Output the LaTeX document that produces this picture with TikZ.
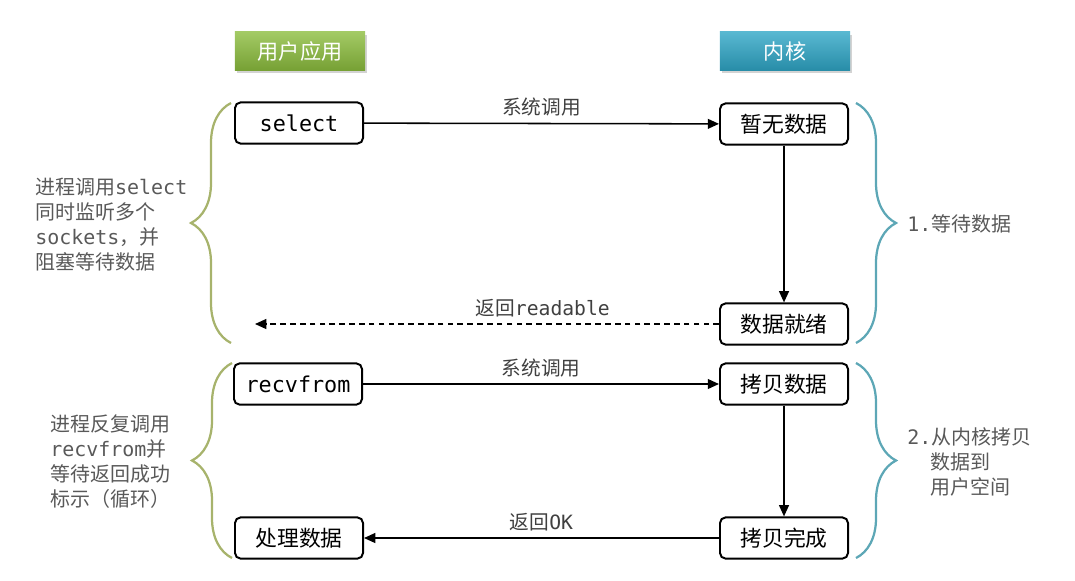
\documentclass[tikz,border=0pt]{standalone}
\usepackage{fontspec}
\setmainfont{Noto Sans CJK SC}
\setmonofont{DejaVu Sans Mono}
\usetikzlibrary{arrows.meta,shadows,decorations.pathreplacing}
\definecolor{usergreen}{HTML}{8CBD3E}
\definecolor{kernblue}{HTML}{2FA6C6}
\definecolor{leftbrace}{HTML}{A7B36C}
\definecolor{rightbrace}{HTML}{5DA7B6}
\definecolor{sidetext}{HTML}{595959}
\begin{document}
\begin{tikzpicture}[x=0.025cm,y=-0.025cm,
    >={Triangle[length=8pt,width=7pt]},
    box/.style={draw,line width=1.4pt,rounded corners=4pt,minimum width=3.2cm,
      minimum height=1.03cm,inner sep=0pt,font=\fontsize{15.5}{18}\selectfont},
    head/.style={minimum width=3.25cm,minimum height=0.95cm,inner sep=0pt,
      text=white,font=\fontsize{15}{18}\selectfont,
      drop shadow={shadow xshift=1.5pt,shadow yshift=-2pt,opacity=0.35}},
    lbl/.style={text=black!75,font=\fontsize{14}{17}\selectfont},
    side/.style={text=sidetext,align=left,inner sep=0pt,anchor=west,
      font=\fontsize{14.2}{17.8}\selectfont},
    brc/.style={decorate,line width=1.6pt,decoration={brace,amplitude=1cm}}]
    \useasboundingbox (0,0) rectangle (1075,580);
    % headers
    \path (300,51) node (user) [head,top color=usergreen!80!white,bottom color=usergreen!85!black] {用户应用}
    (785,51) node (kernel) [head,top color=kernblue!80!white,bottom color=kernblue!85!black] {内核};
    % boxes
    \path (299,123) node (sel) [box] {\texttt{select}}
    (784,124) node (wait) [box] {暂无数据}
    (784,324) node (ready) [box] {数据就绪}
    (298,384) node (recv) [box] {\texttt{recvfrom}}
    (784,384) node (copy) [box] {拷贝数据}
    (299,538) node (handle) [box] {处理数据}
    (784,538) node (done) [box] {拷贝完成};
    \coordinate (back) at (255,324);
    % arrows
    \draw [->, line width=1.1pt] (sel) -- node (call1) [lbl,above=1pt] {系统调用} (wait);
    \draw [->, line width=1.1pt] (wait) -- (ready);
    \draw [->, line width=1.1pt, dash pattern=on 4pt off 3pt] (ready) -- node (ret1) [lbl,above=1pt,pos=0.38] {返回\texttt{readable}} (back);
    \draw [->, line width=1.1pt] (recv) -- node (call2) [lbl,above=1pt] {系统调用} (copy);
    \draw [->, line width=1.1pt] (copy) -- (done);
    \draw [->, line width=1.1pt] (done) -- node (ret2) [lbl,above=1pt] {返回\texttt{OK}} (handle);
    % braces
    \coordinate (lb1) at (231,343); \coordinate (lt1) at (231,103);
    \coordinate (lb2) at (232,558); \coordinate (lt2) at (232,363);
    \coordinate (rt1) at (856,103); \coordinate (rb1) at (856,343);
    \coordinate (rt2) at (856,363); \coordinate (rb2) at (856,558);
    \draw [brc, leftbrace] (lb1) -- (lt1);
    \draw [brc, leftbrace] (lb2) -- (lt2);
    \draw [brc, rightbrace] (rt1) -- (rb1);
    \draw [brc, rightbrace] (rt2) -- (rb2);
    % side texts
    \path (35,225) node (note1) [side] {进程调用\texttt{select}\\同时监听多个\\\texttt{sockets}，并\\阻塞等待数据}
    (50,462) node (note2) [side] {进程反复调用\\\texttt{recvfrom}并\\等待返回成功\\标示（循环）}
    (907,224) node (step1) [side] {\texttt{1.}等待数据}
    (907,462) node (step2) [side] {\texttt{2.}从内核拷贝\\\hspace*{0.58cm}数据到\\\hspace*{0.58cm}用户空间};
\end{tikzpicture}
\end{document}
